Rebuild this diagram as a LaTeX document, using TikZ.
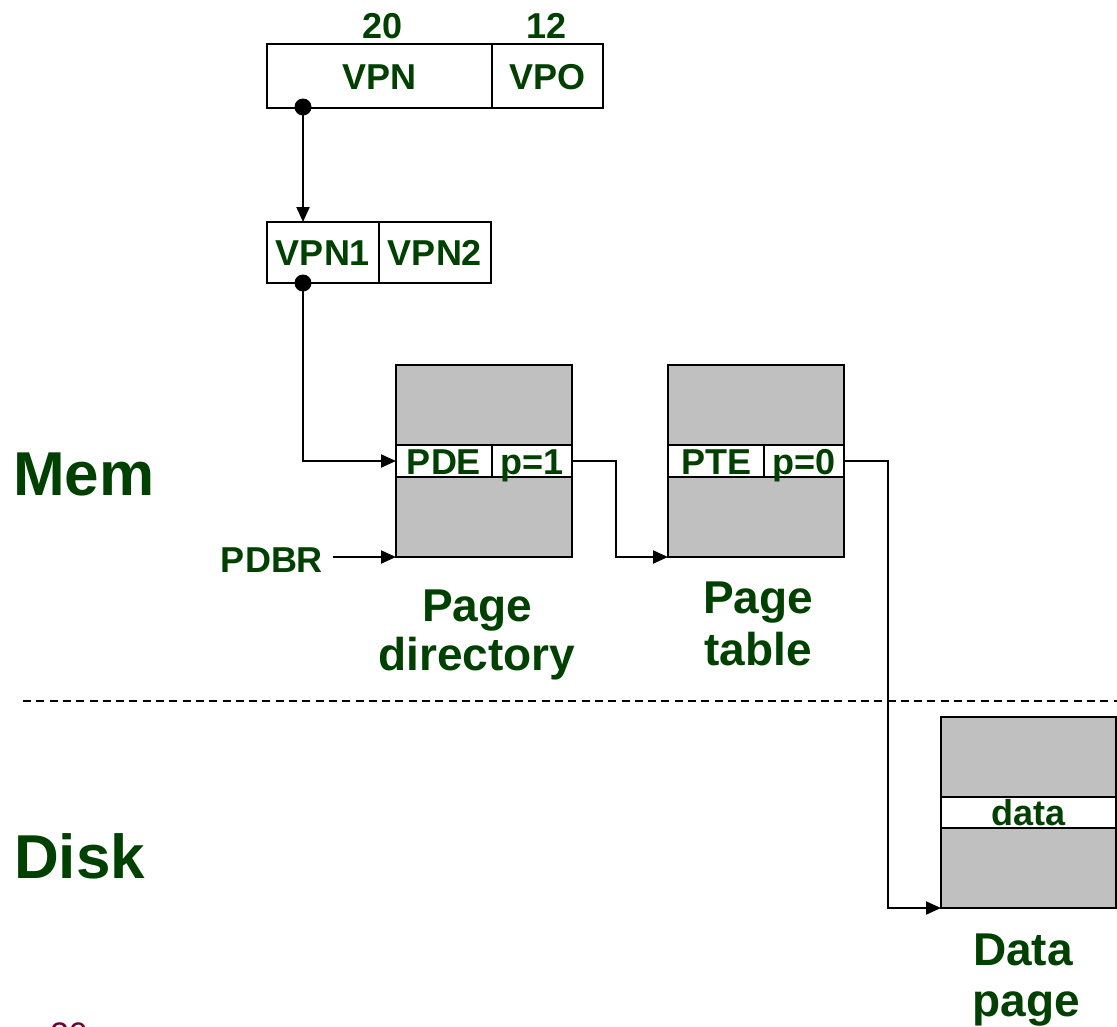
\documentclass[tikz,border=0pt]{standalone}
\usepackage{fontspec}
\setmainfont{Liberation Sans}
\usetikzlibrary{arrows.meta}
\definecolor{dkgreen}{RGB}{0,64,0}
\definecolor{boxgray}{RGB}{192,192,192}
\definecolor{pgmaroon}{RGB}{110,0,50}
\begin{document}
\begin{tikzpicture}[x=1pt,y=-1pt,
  txt/.style={font=\fontsize{36}{43}\selectfont\bfseries, text=dkgreen, inner sep=0pt, outer sep=0pt},
  cell/.style={txt, draw=black, line width=2.6pt, fill=white, text height=26pt, text depth=0pt},
  membox/.style={draw=black, line width=2.6pt, fill=boxgray, inner sep=0pt, outer sep=0pt},
  biglbl/.style={font=\fontsize{46}{52}\selectfont\bfseries, text=dkgreen, inner sep=0pt, outer sep=0pt, anchor=base},
  side/.style={font=\fontsize{62}{70}\selectfont\bfseries, text=dkgreen, inner sep=0pt, outer sep=0pt, anchor=base west},
  conn/.style={line width=2pt, -{Triangle[length=15pt,width=13pt]}}]
\useasboundingbox (0,0) rectangle (1117,1026);

% virtual address
\node[txt, anchor=base] (n20) at (383,38) {20};
\node[txt, anchor=base] (n12) at (547,38) {12};
\node[cell, minimum width=225pt, minimum height=64pt] (vpn) at (379.5,76) {VPN};
\node[cell, minimum width=111pt, minimum height=64pt] (vpo) at (547.5,76) {VPO};

\node[cell, minimum width=112pt, minimum height=61pt] (vpn1) at (323,252.5) {VPN1};
\node[cell, minimum width=112pt, minimum height=61pt] (vpn2) at (435,252.5) {VPN2};

% page directory
\node[membox, minimum width=176pt, minimum height=192pt] (pd) at (484,461) {};
\node[cell, minimum width=96pt, minimum height=32pt] (pde) at (444,461) {PDE};
\node[cell, minimum width=80pt, minimum height=32pt] (p1) at (532,461) {p=1};

% page table
\node[membox, minimum width=176pt, minimum height=192pt] (pt) at (756,461) {};
\node[cell, minimum width=96pt, minimum height=32pt] (pte) at (716,461) {PTE};
\node[cell, minimum width=80pt, minimum height=32pt] (p0) at (804,461) {p=0};

% data page
\node[membox, minimum width=175pt, minimum height=191pt] (dp) at (1028.5,812.5) {};
\node[cell, minimum width=175pt, minimum height=31pt] (data) at (1028.5,812.5) {data};

% labels
\node[side] (mem) at (13,495) {Mem};
\node[side] (disk) at (14,878) {Disk};
\node[txt, anchor=base] (pdbr) at (272,572) {PDBR};
\node[biglbl] (pdl1) at (477,621) {Page};
\node[biglbl] (pdl2) at (477,670) {directory};
\node[biglbl] (ptl1) at (758,613) {Page};
\node[biglbl] (ptl2) at (758,665) {table};
\node[biglbl] (dpl1) at (1023,965) {Data};
\node[biglbl] (dpl2) at (1026,1016) {page};
\node[font=\fontsize{34}{40}\selectfont, text=pgmaroon, inner sep=0pt, anchor=base] (pgno) at (69,1046) {20};

% mem / disk separator
\draw[line width=2.6pt, dash pattern=on 8pt off 5.3pt] (23,701) -- (1117,701);

% connectors
\coordinate (d1) at (303,107);
\coordinate (d2) at (303,283);
\draw[conn] (d1) -- (d1 |- vpn1.north);
\draw[conn] (d2) |- (pde.west);
\fill (d1) circle[radius=8.5pt];
\fill (d2) circle[radius=8.5pt];
\draw[conn] ([xshift=10pt]pdbr.east |- pd.south west) -- (pd.south west);
\draw[conn] (p1.east) -- ++(44,0) |- (pt.south west);
\draw[conn] (p0.east) -- ++(44,0) |- (dp.south west);
\end{tikzpicture}
\end{document}
